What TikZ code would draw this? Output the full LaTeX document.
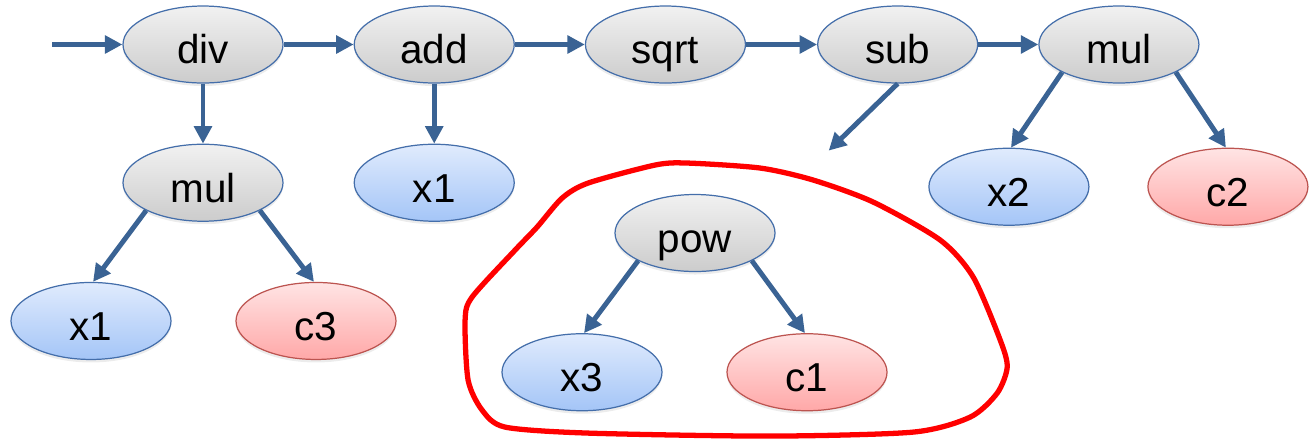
\documentclass[tikz,border=0pt]{standalone}
\usepackage{fontspec}
\setmainfont{Liberation Sans}
\usetikzlibrary{positioning,arrows.meta,shapes.geometric,calc,shadows}
\definecolor{edgeblue}{RGB}{58,99,148}
\definecolor{rimblue}{RGB}{68,110,170}
\definecolor{rimred}{RGB}{188,84,80}
\definecolor{optop}{RGB}{241,241,241}
\definecolor{opbot}{RGB}{204,204,204}
\definecolor{vartop}{RGB}{224,235,253}
\definecolor{varbot}{RGB}{164,197,247}
\definecolor{csttop}{RGB}{255,228,228}
\definecolor{cstbot}{RGB}{255,168,168}

\begin{document}
\begin{tikzpicture}[
  font=\fontsize{23}{27}\selectfont,
  op/.style={ellipse, draw=rimblue, line width=0.7pt, inner sep=0pt, text height=23pt, text depth=1pt, minimum width=3.2cm, minimum height=1.54cm, top color=optop, bottom color=opbot, drop shadow={opacity=0.15, shadow xshift=0pt, shadow yshift=-0.06cm}},
  var/.style={op, top color=vartop, bottom color=varbot},
  cst/.style={op, draw=rimred, top color=csttop, bottom color=cstbot},
  link/.style={-{Triangle[length=3.5mm,width=3.5mm]}, edgeblue, line width=2.8pt},
  loop/.style={red, line width=3pt, line join=round, preaction={draw=black, opacity=0.12, transform canvas={shift={(0.03,-0.05)}}}}
]
\useasboundingbox (0,0) rectangle (26.28,-8.82);

\node[op] (div) at (4.06,-0.89) {div};
\node[op, right=1.4cm of div] (add) {add};
\node[op, right=1.4cm of add] (sqrt) {sqrt};
\node[op, right=1.42cm of sqrt] (sub) {sub};
\node[op, right=1.2cm of sub] (mulB) {mul};

\node[op, below=1.2cm of div] (mulA) {mul};
\node[var, below=1.2cm of add] (x1a) {x1};
\node[var, below=1.2cm of mulA, xshift=-2.24cm] (x1b) {x1};
\node[cst, below=1.2cm of mulA, xshift=2.26cm] (c3) {c3};
\node[var, below=1.28cm of mulB, xshift=-2.2cm] (x2) {x2};
\node[cst, below=1.28cm of mulB, xshift=2.18cm] (c2) {c2};

\node[op] (pow) at (13.9,-4.66) {pow};
\node[var, below=1.22cm of pow, xshift=-2.26cm] (x3) {x3};
\node[cst, below=1.22cm of pow, xshift=2.24cm] (c1) {c1};

\coordinate[left=1.4cm of div] (in);
\coordinate (gap) at ($(sub.south)+(-1.38,-1.34)$);

\draw[link] (in) -- (div);
\foreach \a/\b in {div/add, add/sqrt, sqrt/sub, sub/mulB} \draw[link] (\a) -- (\b);
\draw[link] (div) -- (mulA);
\draw[link] (add) -- (x1a);
\draw[link] (sub.south) -- (gap);
\foreach \p/\l/\r in {mulA/x1b/c3, mulB/x2/c2, pow/x3/c1} {
  \draw[link] (\p.206) -- (\l.87);
  \draw[link] (\p.334) -- (\r.93);
}

\begin{scope}[x=0.02cm, y=-0.02cm]
\draw[loop] plot[smooth cycle, tension=0.45] coordinates {
  (515,250) (537,227) (562,198) (588,183) (655,165) (687,163) (760,168)
  (813,180) (873,202) (940,240) (973,277) (1000,340) (1007,367) (997,393)
  (970,417) (913,432) (770,436) (588,433) (505,427) (482,410) (468,380)
  (465,320) (472,297)};
\end{scope}
\end{tikzpicture}
\end{document}
